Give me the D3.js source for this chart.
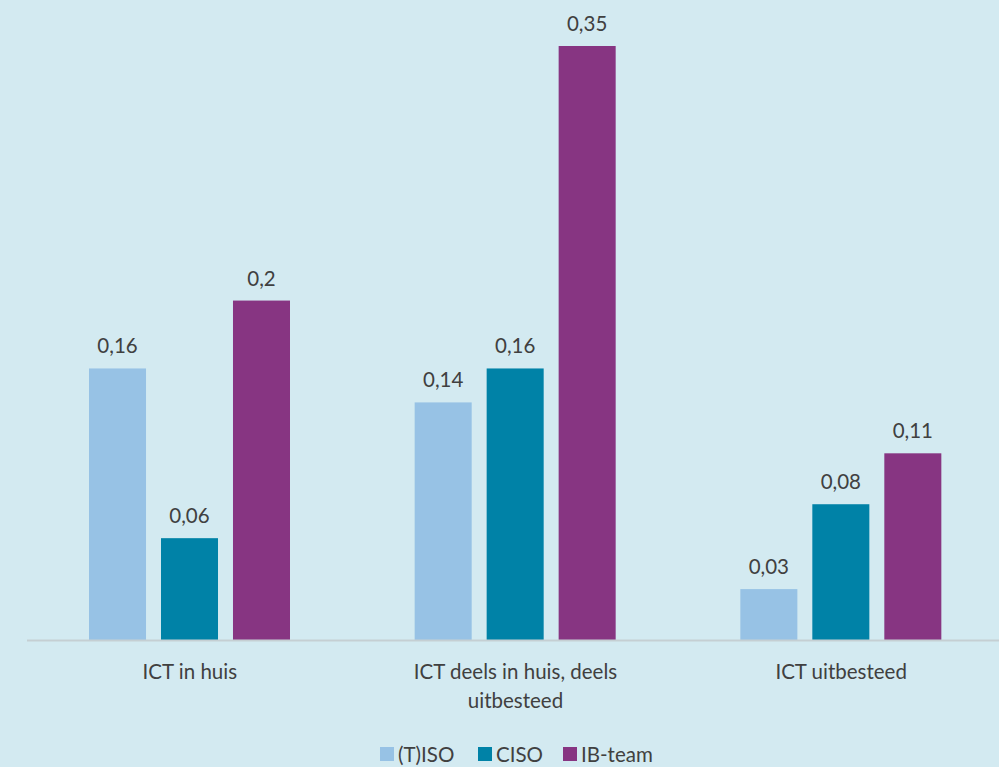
<!DOCTYPE html>
<html>
<head>
<meta charset="utf-8">
<script src="https://cdn.jsdelivr.net/npm/d3@7"></script>
<style>
  body { margin: 0; background: #d3eaf1; }
  svg { display: block; font-family: Lato, "Open Sans", sans-serif; }
</style>
</head>
<body>
<svg width="999" height="767"></svg>
<script>
var categories = [["ICT in huis"], ["ICT deels in huis, deels", "uitbesteed"], ["ICT uitbesteed"]];
var seriesNames = ["(T)ISO", "CISO", "IB-team"];
var tiso = [0.16, 0.14, 0.03];
var ciso = [0.06, 0.16, 0.08];
var ibteam = [0.2, 0.35, 0.11];
var seriesColors = ["#97c2e5", "#0082a7", "#873582"];

var svg = d3.select("svg");
var margin = { top: 46, right: -5, bottom: 127, left: 27 };
var width = +svg.attr("width") - margin.left - margin.right;
var height = +svg.attr("height") - margin.top - margin.bottom;
var fs = 20.5;

var rows = categories.map(function(c, i) {
  return { cat: i, values: [tiso[i], ciso[i], ibteam[i]] };
});

var x0 = d3.scaleBand().domain(d3.range(categories.length)).range([0, width]).paddingInner(0).paddingOuter(0);
var x1 = d3.scaleBand().domain(d3.range(seriesNames.length)).range([62, 263]).paddingInner(0.208);
var y = d3.scaleLinear().domain([0, 0.35]).range([height, 0]);
var fmt = function(v) { return String(v).replace(".", ","); };

var g = svg.append("g").attr("transform", "translate(" + margin.left + "," + margin.top + ")");

var grp = g.selectAll(".grp").data(rows).enter().append("g")
  .attr("class", "grp")
  .attr("transform", function(d) { return "translate(" + x0(d.cat) + ",0)"; });

grp.selectAll("rect").data(function(d) { return d.values; }).enter().append("rect")
  .attr("x", function(d, i) { return x1(i); })
  .attr("y", function(d) { return y(d); })
  .attr("width", x1.bandwidth())
  .attr("height", function(d) { return height - y(d); })
  .attr("fill", function(d, i) { return seriesColors[i]; });

grp.selectAll("text.val").data(function(d) { return d.values; }).enter().append("text")
  .attr("class", "val")
  .attr("x", function(d, i) { return x1(i) + x1.bandwidth() / 2; })
  .attr("y", function(d) { return y(d) - 15; })
  .attr("text-anchor", "middle")
  .attr("font-size", fs)
  .attr("fill", "#404040")
  .text(fmt);

// axis line
g.append("line")
  .attr("x1", 0).attr("x2", width)
  .attr("y1", height + 0.5).attr("y2", height + 0.5)
  .attr("stroke", "#c5cfd3").attr("stroke-width", 2);

// category labels
var lab = g.selectAll(".cat").data(categories).enter().append("text")
  .attr("class", "cat")
  .attr("text-anchor", "middle")
  .attr("font-size", fs)
  .attr("fill", "#404040")
  .attr("transform", function(d, i) { return "translate(" + (x0(i) + x0.bandwidth() / 2) + "," + (height + 39) + ")"; });
lab.selectAll("tspan").data(function(d) { return d; }).enter().append("tspan")
  .attr("x", 0)
  .attr("dy", function(d, i) { return i === 0 ? 0 : 29; })
  .text(function(d) { return d; });

// legend
var legX = [380, 478, 563];
var leg = svg.append("g").attr("transform", "translate(0,754)");
var li = leg.selectAll("g").data(seriesNames).enter().append("g")
  .attr("transform", function(d, i) { return "translate(" + legX[i] + ",0)"; });
li.append("rect").attr("x", 0).attr("y", -7).attr("width", 14).attr("height", 14)
  .attr("fill", function(d, i) { return seriesColors[i]; });
li.append("text").attr("x", 18).attr("y", 7.5)
  .attr("font-size", fs).attr("fill", "#404040")
  .text(function(d) { return d; });
</script>
</body>
</html>
